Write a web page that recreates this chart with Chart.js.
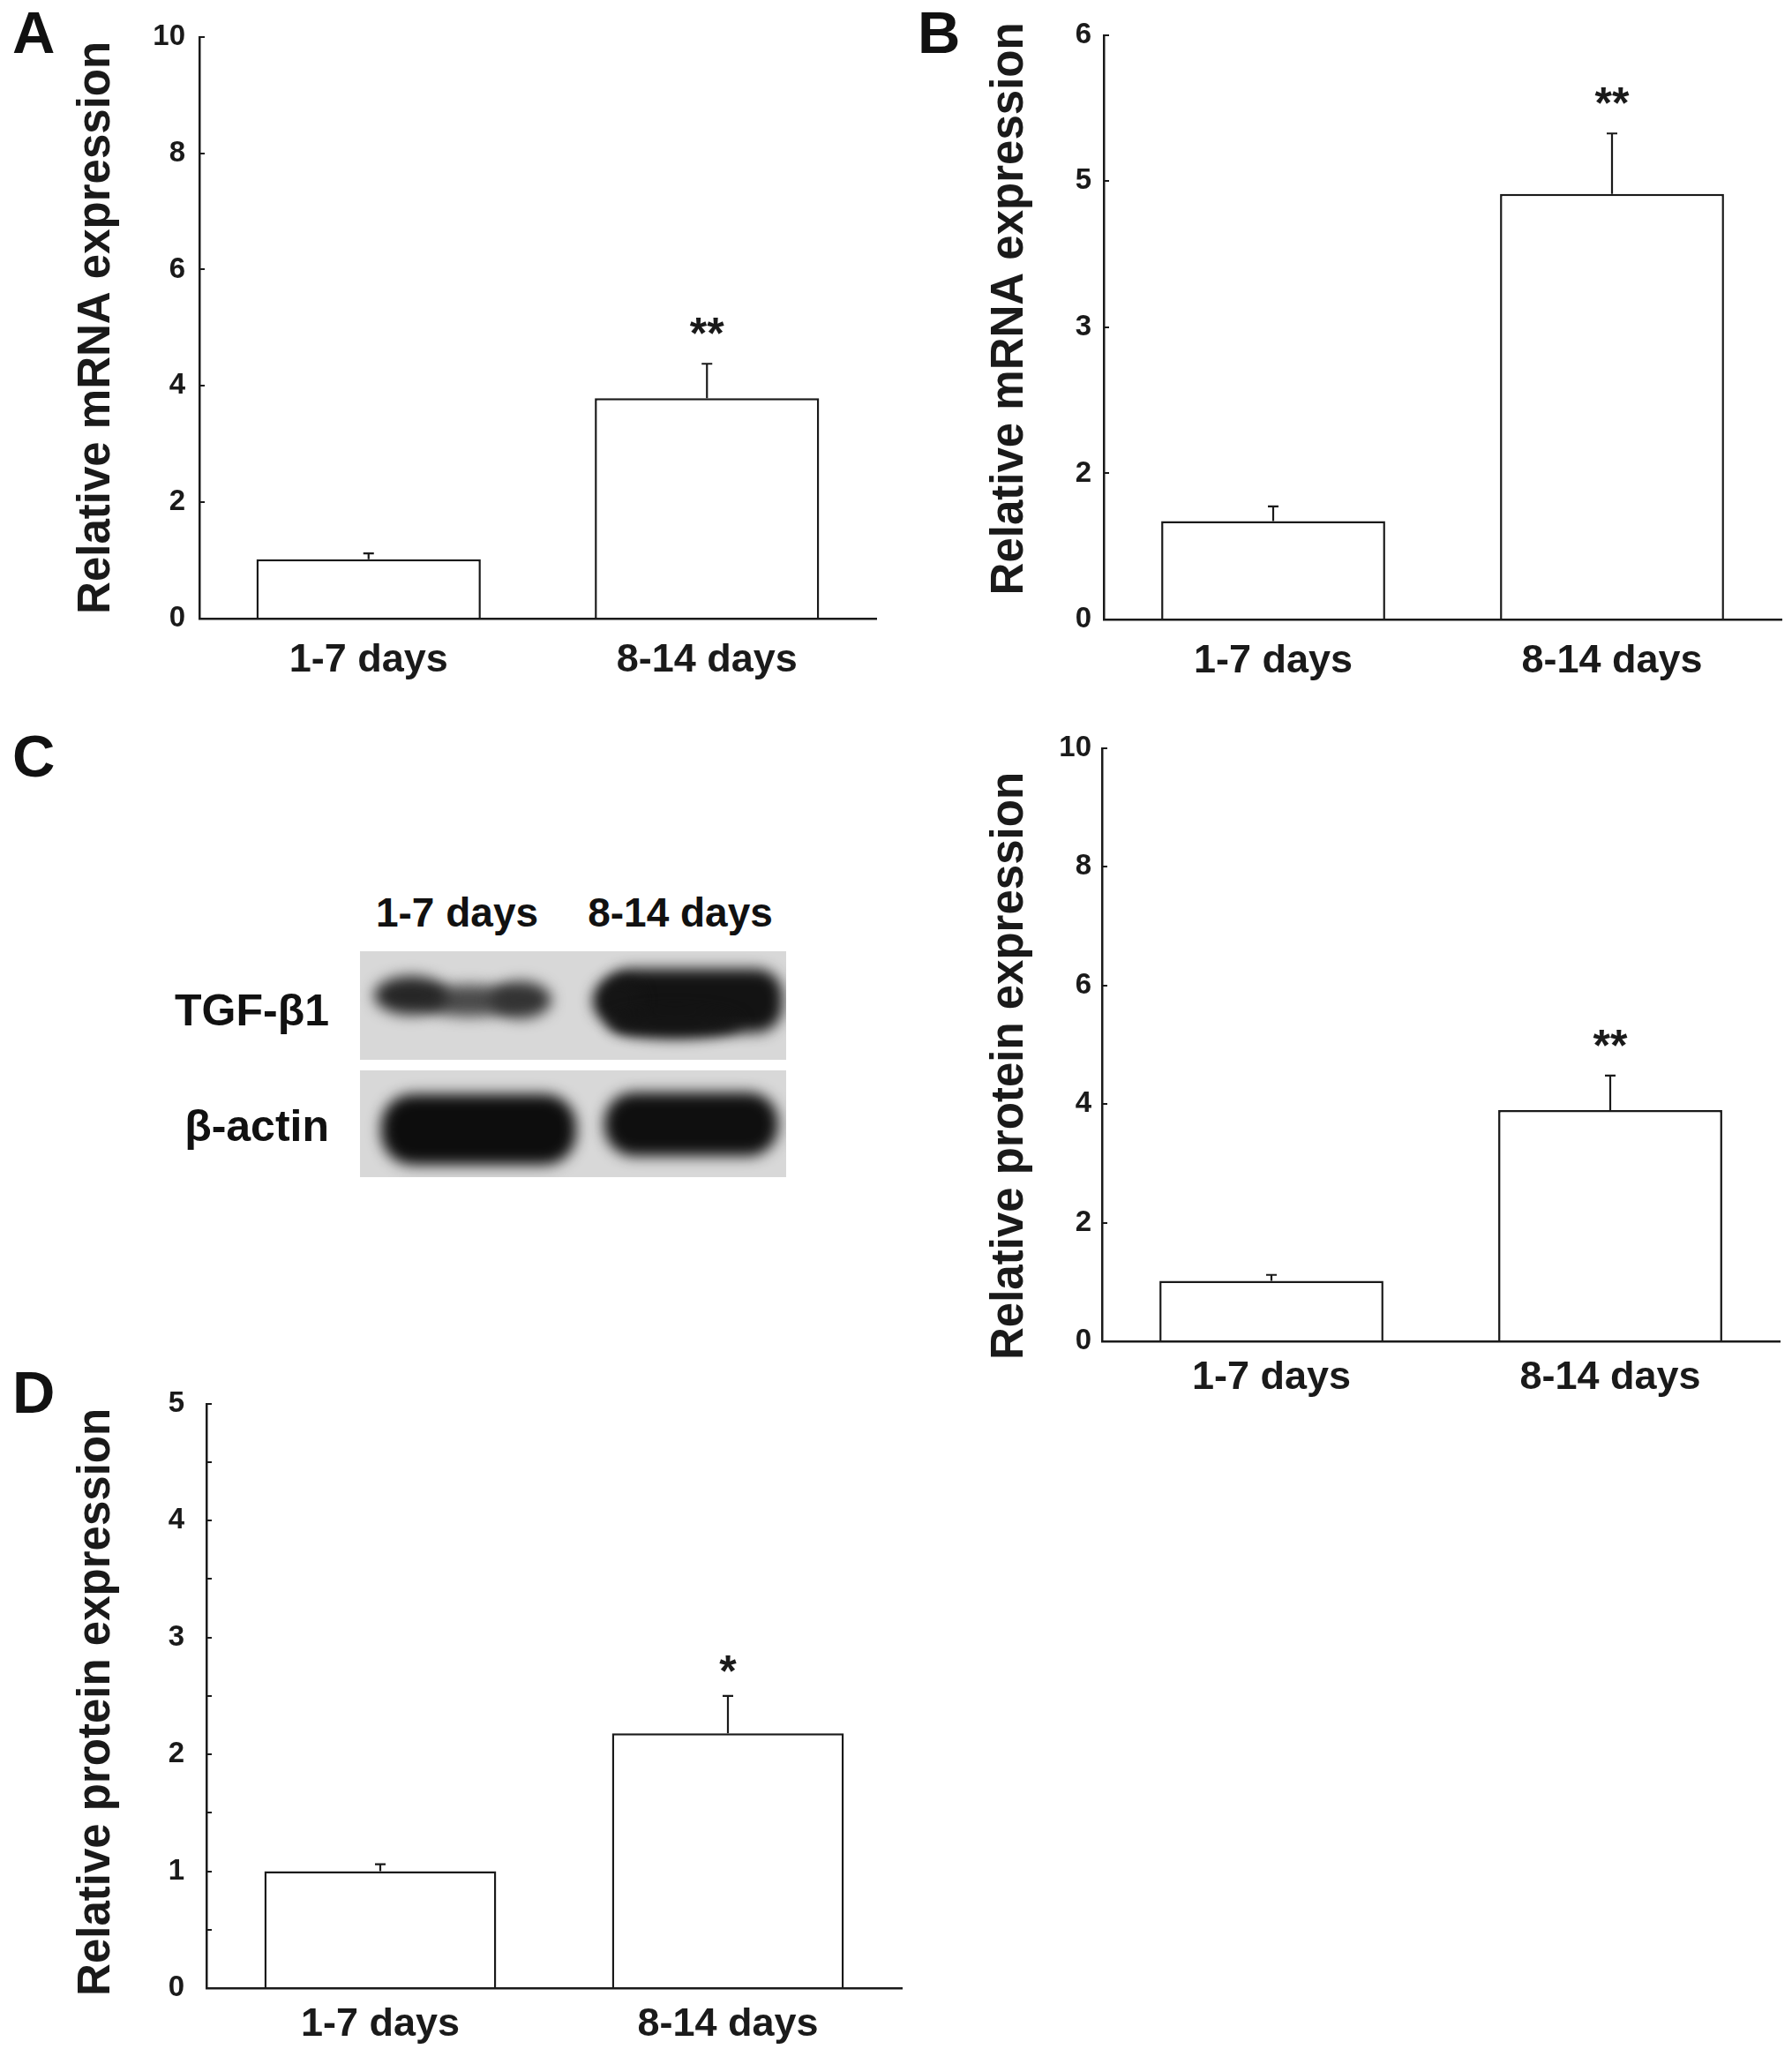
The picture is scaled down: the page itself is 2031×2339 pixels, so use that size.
<!DOCTYPE html>
<html>
<head>
<meta charset="utf-8">
<script src="https://cdn.jsdelivr.net/npm/chart.js@4.4.1/dist/chart.umd.min.js"></script>
<style>
  html, body { margin: 0; padding: 0; background: #fff; }
  body { width: 2031px; height: 2339px; position: relative; overflow: hidden;
         font-family: 'Liberation Sans', Arial, sans-serif; }
  canvas { position: absolute; }
  .t { position: absolute; font-weight: bold; line-height: 1; white-space: nowrap; color: #111; }
</style>
</head>
<body>
<canvas id="cA" width="1015" height="800" style="left:0;top:0"></canvas>
<canvas id="cB" width="1016" height="800" style="left:1015px;top:0"></canvas>
<canvas id="cC" width="1016" height="800" style="left:1015px;top:800px"></canvas>
<canvas id="cD" width="1040" height="799" style="left:0;top:1540px"></canvas>
<canvas id="blot" width="500" height="275" style="left:400px;top:1070px"></canvas>

<div class="t" style="left:14px;top:3px;font-size:67px">A</div>
<div class="t" style="left:1040px;top:3px;font-size:67px">B</div>
<div class="t" style="left:14px;top:823px;font-size:67px">C</div>
<div class="t" style="left:14px;top:1544px;font-size:67px">D</div>

<div class="t" style="left:418px;width:200px;text-align:center;top:1011px;font-size:46px">1-7 days</div>
<div class="t" style="left:661px;width:220px;text-align:center;top:1011px;font-size:46px">8-14 days</div>
<div class="t" style="left:0;width:373px;text-align:right;top:1120px;font-size:50px">TGF-β1</div>
<div class="t" style="left:0;width:373px;text-align:right;top:1251px;font-size:50px">β-actin</div>

<script>
// ---------------- data ----------------
const categories = ['1-7 days', '8-14 days'];

const mrnaA    = [1.02, 3.79];
const mrnaAErr = [0.10, 0.59];
const sigA     = ['', '**'];

const mrnaB    = [1.01, 4.37];
const mrnaBErr = [0.15, 0.62];
const sigB     = ['', '**'];

const proteinC    = [1.02, 3.90];
const proteinCErr = [0.10, 0.58];
const sigC        = ['', '**'];

const proteinD    = [1.00, 2.18];
const proteinDErr = [0.06, 0.32];
const sigD        = ['', '*'];

const ticksA = [0, 2, 4, 6, 8, 10];
const tickLabelsA = ['0', '2', '4', '6', '8', '10'];
const ticksB = [0, 1.5, 3, 4.5, 6];
const tickLabelsB = ['0', '2', '3', '5', '6'];
const ticksC = [0, 2, 4, 6, 8, 10];
const tickLabelsC = ['0', '2', '4', '6', '8', '10'];
const ticksD = [0, 0.5, 1, 1.5, 2, 2.5, 3, 3.5, 4, 4.5, 5];
const tickLabelsD = ['0', '', '1', '', '2', '', '3', '', '4', '', '5'];

// ---------------- styles ----------------
const INK = '#1a1a1a';
const FAMILY = "'Liberation Sans', Arial, sans-serif";
Chart.defaults.font.family = FAMILY;
Chart.defaults.color = INK;

const errorBarPlugin = {
  id: 'errbars',
  afterDatasetsDraw(chart, args, opts) {
    const ctx = chart.ctx;
    const meta = chart.getDatasetMeta(0);
    const ys = chart.scales.y;
    const vals = chart.data.datasets[0].data;
    ctx.save();
    ctx.strokeStyle = INK;
    ctx.lineWidth = 2.2;
    ctx.fillStyle = INK;
    ctx.font = 'bold 50px ' + FAMILY;
    ctx.textAlign = 'center';
    ctx.textBaseline = 'alphabetic';
    meta.data.forEach((bar, i) => {
      const x = bar.x;
      const y0 = ys.getPixelForValue(vals[i]);
      const y1 = ys.getPixelForValue(vals[i] + opts.errors[i]);
      ctx.beginPath();
      ctx.moveTo(x, y0); ctx.lineTo(x, y1);
      ctx.moveTo(x - 6, y1); ctx.lineTo(x + 6, y1);
      ctx.stroke();
      if (opts.marks[i]) ctx.fillText(opts.marks[i], x, y1 - opts.markGap);
    });
    ctx.restore();
  }
};

// shifts the y-axis title along the axis (the original titles are not centred)
const titleShiftPlugin = {
  id: 'titleShift',
  beforeDraw(chart, args, opts) {
    const s = chart.scales.y;
    if (!s || s._shiftPatched) return;
    const orig = s.drawTitle.bind(s);
    s.drawTitle = function () {
      const ctx = chart.ctx;
      ctx.save();
      ctx.translate(0, opts.dy || 0);
      orig();
      ctx.restore();
    };
    s._shiftPatched = true;
  }
};

function makeChart(id, cfg) {
  return new Chart(document.getElementById(id), {
    type: 'bar',
    data: {
      labels: categories,
      datasets: [{
        data: cfg.values,
        backgroundColor: '#ffffff',
        borderColor: INK,
        borderWidth: 2.5,
        barPercentage: cfg.barPct,
        categoryPercentage: 1
      }]
    },
    options: {
      responsive: false,
      animation: false,
      devicePixelRatio: 1,
      layout: { padding: cfg.pad },
      plugins: {
        legend: { display: false },
        tooltip: { enabled: false },
        errbars: { errors: cfg.errors, marks: cfg.marks, markGap: cfg.markGap },
        titleShift: { dy: cfg.titleDy }
      },
      scales: {
        x: {
          type: 'category',
          offset: true,
          grid: { display: false, drawTicks: false },
          border: { display: true, color: INK, width: 2.5 },
          ticks: { color: INK, font: { size: 45, weight: 'bold' }, padding: cfg.xPad,
                   maxRotation: 0, autoSkip: false },
          afterFit(s) { s.height = cfg.xHeight; }
        },
        y: {
          min: cfg.tickVals[0],
          max: cfg.tickVals[cfg.tickVals.length - 1],
          afterBuildTicks(s) { s.ticks = cfg.tickVals.map(v => ({ value: v })); },
          ticks: {
            autoSkip: false,
            callback: (v, i) => cfg.tickLabels[i],
            color: INK,
            font: { size: 33, weight: 'bold' },
            padding: cfg.yPad,
            crossAlign: 'near'
          },
          grid: { display: true, drawOnChartArea: false, drawTicks: true, tickLength: -6,
                  color: INK, lineWidth: 2 },
          border: { display: true, color: INK, width: 2.5 },
          title: { display: true, text: cfg.title, color: INK,
                   font: { size: 51, weight: 'bold' },
                   padding: { top: cfg.titlePad, bottom: 0 } },
          afterFit(s) { s.width = cfg.yWidth; }
        }
      }
    },
    plugins: [errorBarPlugin, titleShiftPlugin]
  });
}

makeChart('cA', {
  values: mrnaA, errors: mrnaAErr, marks: sigA, markGap: 17,
  tickVals: ticksA, tickLabels: tickLabelsA,
  title: 'Relative mRNA expression', titleDy: 0,
  pad: { left: 0, top: 30, right: 22, bottom: 0 },
  yWidth: 226, xHeight: 99, xPad: 21, yPad: 22, titlePad: 79, barPct: 0.663
});
makeChart('cB', {
  values: mrnaB, errors: mrnaBErr, marks: sigB, markGap: 17,
  tickVals: ticksB, tickLabels: tickLabelsB,
  title: 'Relative mRNA expression', titleDy: -21,
  pad: { left: 0, top: 33, right: 12, bottom: 0 },
  yWidth: 236, xHeight: 98, xPad: 21, yPad: 20, titlePad: 99, barPct: 0.661
});
makeChart('cC', {
  values: proteinC, errors: proteinCErr, marks: sigC, markGap: 17,
  tickVals: ticksC, tickLabels: tickLabelsC,
  title: 'Relative protein expression', titleDy: 24,
  pad: { left: 0, top: 48, right: 14, bottom: 0 },
  yWidth: 234, xHeight: 80, xPad: 15, yPad: 18, titlePad: 99, barPct: 0.661
});
makeChart('cD', {
  values: proteinD, errors: proteinDErr, marks: sigD, markGap: 11,
  tickVals: ticksD, tickLabels: tickLabelsD,
  title: 'Relative protein expression', titleDy: 7,
  pad: { left: 0, top: 44, right: 18, bottom: 0 },
  yWidth: 234, xHeight: 86, xPad: 15, yPad: 31, titlePad: 79, barPct: 0.667
});

// ---------------- western blot image (panel C) ----------------
(function drawBlot() {
  const b = document.getElementById('blot').getContext('2d');
  b.translate(-400, -1070);
  b.fillStyle = '#d8d8d8';
  b.fillRect(408, 1078, 483, 123);
  b.fillRect(408, 1213, 483, 121);

  function rr(x, y, w, h, r, col) {
    b.fillStyle = col;
    b.beginPath();
    b.roundRect(x, y, w, h, r);
    b.fill();
  }
  function el(cx, cy, rx, ry, col) {
    b.fillStyle = col;
    b.beginPath();
    b.ellipse(cx, cy, rx, ry, 0, 0, Math.PI * 2);
    b.fill();
  }
  b.save();
  b.beginPath(); b.rect(408, 1078, 483, 123); b.rect(408, 1213, 483, 121); b.clip();
  b.filter = 'blur(8px)';
  // TGF-beta1 lane 1 (weak, two lobes joined by a paler middle)
  el(532, 1134, 56, 18, '#4a4a4a');
  el(466, 1128, 42, 22, '#262626');
  el(590, 1133, 35, 21, '#333333');
  // TGF-beta1 lane 2 (strong)
  rr(684, 1098, 203, 72, 30, '#131313');
  el(700, 1134, 28, 26, '#151515');
  el(765, 1160, 75, 16, '#141414');
  // beta-actin lanes
  rr(432, 1240, 221, 80, 36, '#0d0d0d');
  rr(685, 1238, 197, 72, 34, '#0f0f0f');
  b.restore();
})();
</script>
</body>
</html>
